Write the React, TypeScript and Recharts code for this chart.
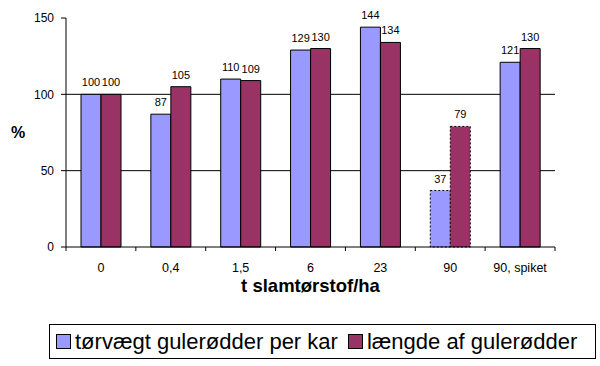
import React from 'react'
import { Bar, BarChart, CartesianGrid, Cell, LabelList, Legend, XAxis, YAxis } from 'recharts'

const categories = ['0', '0,4', '1,5', '6', '23', '90', '90, spiket']
const torvaegt = [100, 87, 110, 129, 144, 37, 121]
const laengde = [100, 105, 109, 130, 134, 79, 130]
const yTicks = [0, 50, 100, 150]
const gridValues = [50, 100]
const dottedCategory = '90'

const seriesNames = ['tørvægt gulerødder per kar', 'længde af gulerødder']
const colors = ['#9999FF', '#993366']

const font = '"Liberation Sans", Arial, sans-serif'

const data = categories.map((name, i) => ({
  name,
  torvaegt: torvaegt[i],
  laengde: laengde[i],
}))

// tick marks sit on the category borders, labels in the middle
function CategoryTick(props: any) {
  const { x, y, payload, index } = props
  const half = payload.offset || 35
  const last = index === categories.length - 1
  return (
    <g>
      <line x1={x - half} x2={x - half} y1={y} y2={y + 4} stroke="#000" />
      {last && <line x1={x + half} x2={x + half} y1={y} y2={y + 4} stroke="#000" />}
      <text x={x} y={y + 25} textAnchor="middle" fontSize={12.5} fontFamily={font} fill="#000">
        {payload.value}
      </text>
    </g>
  )
}

function LegendBox(props: any) {
  const payload = [...(props.payload || [])].sort(
    (a: any, b: any) => seriesNames.indexOf(a.value) - seriesNames.indexOf(b.value)
  )
  return (
    <div
      style={{
        boxSizing: 'border-box',
        width: '100%',
        height: '100%',
        border: '1px solid #000',
        display: 'flex',
        alignItems: 'center',
        paddingLeft: 6,
        fontFamily: font,
        fontSize: 22,
        color: '#000',
        background: '#fff',
        whiteSpace: 'nowrap',
      }}
    >
      {payload.map((p: any) => (
        <span key={p.value} style={{ display: 'flex', alignItems: 'center', marginRight: 10 }}>
          <span
            style={{
              display: 'inline-block',
              boxSizing: 'border-box',
              width: 15,
              height: 15,
              border: '1px solid #000',
              background: p.color,
              marginRight: 4,
            }}
          />
          {p.value}
        </span>
      ))}
    </div>
  )
}

export default function App() {
  return (
    <div style={{ position: 'absolute', left: 0, top: 0, width: 600, height: 366, background: '#fff' }}>
      <BarChart
        width={600}
        height={366}
        data={data}
        margin={{ top: 18, right: 45, left: 0, bottom: 0 }}
        barCategoryGap={15}
        barGap={0}
      >
        <CartesianGrid vertical={false} horizontalValues={gridValues} stroke="#000" />
        <XAxis
          dataKey="name"
          height={119}
          interval={0}
          tickSize={0}
          tickMargin={0}
          tickLine={false}
          axisLine={{ stroke: '#000' }}
          tick={<CategoryTick />}
          label={{
            value: 't slamtørstof/ha',
            position: 'insideBottom',
            offset: 74,
            fontSize: 18.5,
            fontWeight: 'bold',
            fontFamily: font,
            fill: '#000',
          }}
        />
        <XAxis xAxisId="top" orientation="top" dataKey="name" height={0} tick={false} tickLine={false} axisLine={{ stroke: '#808080' }} />
        <YAxis
          width={66}
          domain={[0, 150]}
          ticks={yTicks}
          tickSize={5}
          tickMargin={7}
          axisLine={{ stroke: '#000' }}
          tickLine={{ stroke: '#000' }}
          tick={{ fontSize: 12, fontFamily: font, fill: '#000' }}
          label={{
            value: '%',
            position: 'insideLeft',
            offset: 11,
            fontSize: 16,
            fontWeight: 'bold',
            fontFamily: font,
            fill: '#000',
          }}
        />
        <YAxis yAxisId="right" orientation="right" width={0} domain={[0, 150]} tick={false} tickLine={false} axisLine={{ stroke: '#808080' }} />
        <Legend
          verticalAlign="middle"
          align="center"
          layout="horizontal"
          wrapperStyle={{ left: 49, top: 324, width: 547, height: 35 }}
          content={<LegendBox />}
        />
        <Bar dataKey="torvaegt" name={seriesNames[0]} fill={colors[0]} stroke="#000" strokeWidth={1} isAnimationActive={false}>
          {data.map(d => (
            <Cell key={d.name} strokeDasharray={d.name === dottedCategory ? '2 2' : undefined} />
          ))}
          <LabelList dataKey="torvaegt" position="top" offset={8} fontSize={11} fontFamily={font} fill="#000" />
        </Bar>
        <Bar dataKey="laengde" name={seriesNames[1]} fill={colors[1]} stroke="#000" strokeWidth={1} isAnimationActive={false}>
          {data.map(d => (
            <Cell key={d.name} strokeDasharray={d.name === dottedCategory ? '2 2' : undefined} />
          ))}
          <LabelList dataKey="laengde" position="top" offset={8} fontSize={11} fontFamily={font} fill="#000" />
        </Bar>
      </BarChart>
    </div>
  )
}
